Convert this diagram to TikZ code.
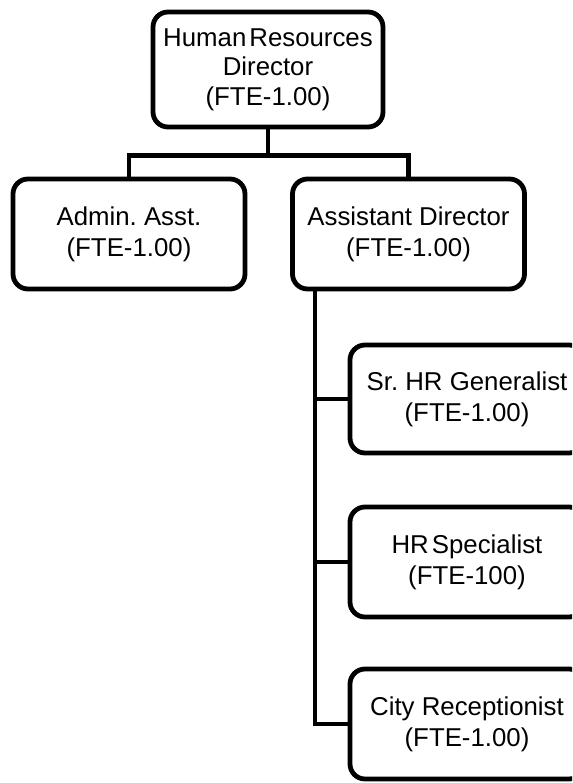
\documentclass[tikz,border=0pt]{standalone}
\usepackage{fontspec}
\setmainfont{Liberation Sans}
\frenchspacing
\begin{document}
\begin{tikzpicture}[x=1pt,y=-1pt,
  box/.style={draw=black, line width=4.8pt, rounded corners=15pt, fill=white,
    align=center, inner sep=0pt, anchor=center,
    font=\fontsize{25.8}{31}\selectfont},
  link/.style={draw=black, line width=4.3pt}]
\useasboundingbox (0,0) rectangle (572,783);
\clip (0,0) rectangle (572,783);
\fill[white] (0,0) rectangle (572,783);
\node[box, minimum width=230pt, minimum height=115pt,
  font=\fontsize{25.8}{29.5}\selectfont] (top) at (268,69.5)
  {Human\hspace{0.12em}Resources\\Director\\(FTE-1.00)};
\node[box, minimum width=232pt, minimum height=110pt] (admin) at (129,234)
  {Admin. Asst.\\(FTE-1.00)};
\node[box, minimum width=232pt, minimum height=110pt] (ad) at (408.5,234)
  {Assistant Director\\(FTE-1.00)};
\node[box, minimum width=234pt, minimum height=108pt] (sr) at (467,399)
  {Sr. HR Generalist\\(FTE-1.00)};
\node[box, minimum width=234pt, minimum height=110pt] (spec) at (467,562)
  {HR\hspace{0.12em}Specialist\\(FTE-100)};
\node[box, minimum width=234pt, minimum height=110pt] (city) at (467,724)
  {City Receptionist\\(FTE-1.00)};
\coordinate (bar) at ([yshift=-26pt]top.south);
\draw[link] (top.south) -- (bar) -| (admin.north);
\draw[link] (bar) -| (ad.north);
\coordinate (trunk) at ([xshift=25pt]ad.south west);
\draw[link] (trunk) |- (city.west);
\draw[link] (trunk |- sr.west) -- (sr.west);
\draw[link] (trunk |- spec.west) -- (spec.west);
\end{tikzpicture}
\end{document}
